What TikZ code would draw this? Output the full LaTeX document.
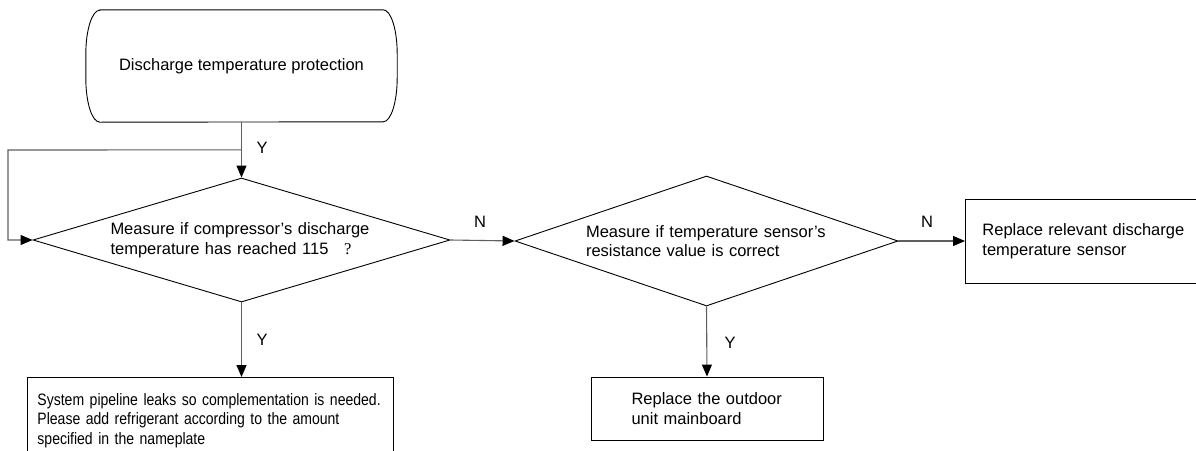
\documentclass[tikz,border=0pt]{standalone}
\usepackage{fontspec}
\setmainfont{Liberation Sans}
\newfontfamily\qmarkfont{Liberation Serif}
\newfontfamily\narrowfont{Liberation Sans}[FakeStretch=0.85]
\usetikzlibrary{arrows.meta,positioning,shapes.geometric,calc}
\definecolor{lineg}{RGB}{95,95,95}
\hyphenpenalty=10000
\tikzset{
  dbox/.style={diamond,draw=black,line width=0.9pt,aspect=3.3,inner sep=0pt,
               text width=#1,align=left},
  dbox/.default=262pt,
  rbox/.style={rectangle,draw=black,line width=0.9pt,align=left,inner sep=0pt},
  arr/.style={-{Triangle[length=12pt,width=10pt,color=black]},line width=1.1pt,color=lineg},
  lbl/.style={inner sep=0pt},
}

\begin{document}
\begin{tikzpicture}[x=1pt,y=-1pt,
    font=\fontsize{16.5}{19.5}\selectfont,
  ]
    \useasboundingbox (0,0) rectangle (1196,450);
    % start terminal
    \node[minimum width=311pt,minimum height=112pt] (start) at (241.5,66) {Discharge temperature protection};
    \draw[line width=0.9pt] ([xshift=14pt]start.north west) -- ([xshift=-14pt]start.north east)
      arc[start angle=90,end angle=0,x radius=14pt,y radius=44pt] -- ++(0pt,-24pt)
      arc[start angle=0,end angle=-90,x radius=14pt,y radius=44pt] -- ([xshift=14pt]start.south west)
      arc[start angle=270,end angle=180,x radius=14pt,y radius=44pt] -- ++(0pt,24pt)
      arc[start angle=180,end angle=90,x radius=14pt,y radius=44pt] -- cycle;
    % decisions
    \node[dbox,minimum width=417pt,minimum height=124pt] (d1) at (241.5,240)
      {Measure if compressor's discharge\\temperature has reached 115\hspace{0.95em}{\qmarkfont ?}};
    \node[dbox=241pt,minimum width=383pt,minimum height=130pt] (d2) at (706.5,241)
      {Measure if temperature sensor's\\resistance value is correct};
    % actions
    \node[rbox,anchor=north west,minimum width=366pt,minimum height=86pt,text width=346pt] (b1) at (27,377)
      {\narrowfont System pipeline leaks so complementation is needed.\\Please add refrigerant according to the amount\\specified in the nameplate};
    \node[rbox,minimum width=232pt,minimum height=63pt,text width=151pt] (b2) at (707,408.5)
      {Replace the outdoor\\unit mainboard};
    \node[rbox,anchor=west,minimum width=270pt,minimum height=84pt,text width=236pt] (b3) at (965,241)
      {Replace relevant discharge\\temperature sensor};
    % connectors
    \coordinate (j) at ($(start.south)!0.5!(d1.north)$);
    \coordinate (lp) at (8,150);
    \draw[arr] (start.south) -- (d1.north);
    \draw[arr] (j) -- (lp) |- (d1.west);
    \draw[arr] (d1.east) -- (d2.west);
    \draw[arr] (d2.east) -- (b3.west);
    \draw[arr] (d1.south) -- (d1.south |- b1.north);
    \draw[arr] (d2.south) -- (b2.north);
    % labels
    \node[lbl] (y1) at (262,148) {Y};
    \node[lbl] (y2) at (262,340) {Y};
    \node[lbl] (y3) at (730,343) {Y};
    \node[lbl] (n1) at (480,222) {N};
    \node[lbl] (n2) at (927,222) {N};
  \end{tikzpicture}
\end{document}
